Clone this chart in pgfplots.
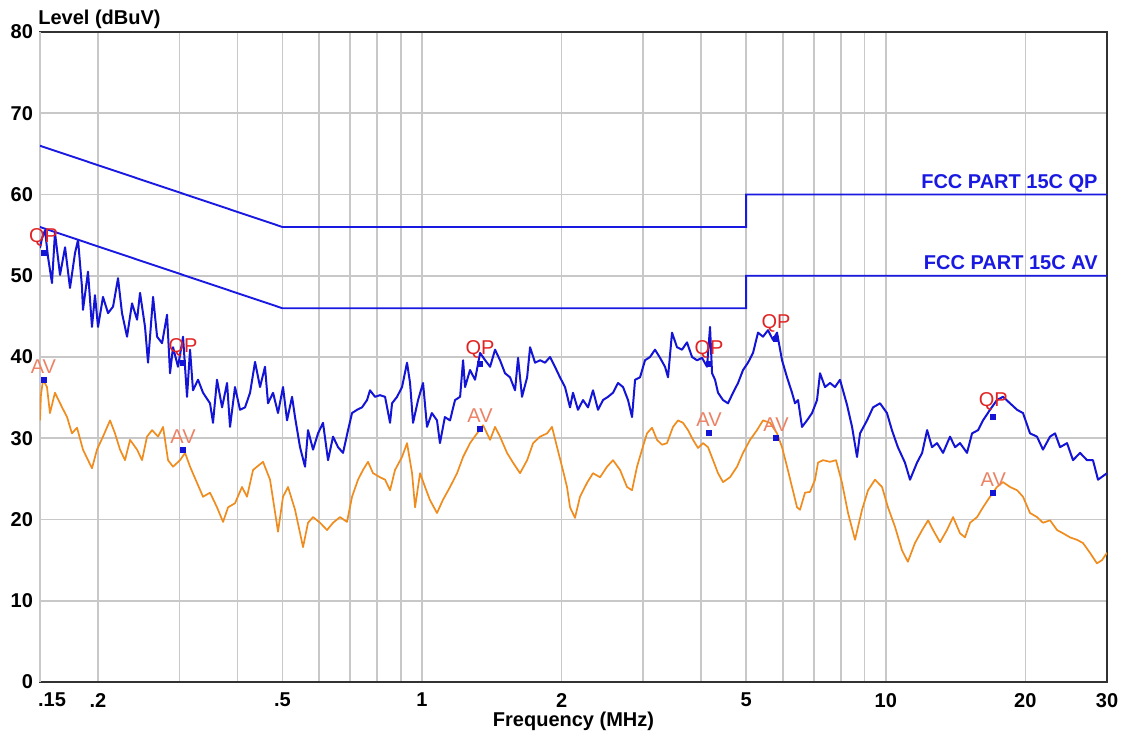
\documentclass[border=0pt]{standalone}
\usepackage{fontspec}
\setmainfont{Liberation Sans}
\usepackage{pgfplots}
\pgfplotsset{compat=1.18}
\definecolor{limblue}{RGB}{25,25,225}
\definecolor{qpblue}{RGB}{20,20,215}
\definecolor{avorange}{RGB}{240,140,30}
\definecolor{gridgray}{RGB}{200,200,200}
\definecolor{framegray}{RGB}{50,50,50}
\definecolor{qpred}{RGB}{225,35,35}
\definecolor{avsalmon}{RGB}{236,130,100}
\begin{document}
\begin{tikzpicture}
\useasboundingbox (-20pt,-29pt) rectangle (545.5pt,341pt);
\begin{axis}[
  at={(0,0)}, anchor=south west,
  scale only axis, width=533.5pt, height=325pt,
  xmode=log, xmin=0.15, xmax=30, ymin=0, ymax=80,
  xtick={0.2,0.5,1,2,5,10,20,30},
  xticklabels={.2,.5,1,2,5,10,20,30},
  extra x ticks={0.15}, extra x tick labels={.15},
  extra x tick style={xticklabel style={xshift=6pt}},
  minor xtick={0.3,0.4,0.6,0.7,0.8,0.9,3,4,6,7,8,9},
  ytick={0,10,20,30,40,50,60,70,80},
  yticklabels={0,10,20,30,40,50,60,70,80},
  major tick length=0pt, minor tick length=0pt,
  grid=both,
  major grid style={draw=gridgray, line width=0.8pt},
  minor grid style={draw=gridgray, line width=0.8pt},
  axis line style={draw=framegray, line width=1.1pt},
  ticklabel style={font=\bfseries\fontsize{10}{12}\selectfont, text=black},
  xticklabel style={yshift=-2pt},
  clip mode=individual,
]
% AV trace
\addplot[color=avorange, line width=0.85pt, line join=round] coordinates {
(0.150,32.2)(0.1507,35.3)(0.1523,37.2)(0.1553,36.3)(0.1576,33.1)(0.1616,35.6)(0.1674,33.8)(0.1716,32.6)(0.1758,30.6)(0.1803,31.3)(0.1857,28.6)(0.1942,26.3)(0.1991,28.6)(0.2051,30.2)(0.2124,32.2)(0.2177,30.6)(0.2232,28.6)(0.2288,27.3)(0.2346,29.8)(0.2429,28.6)(0.2490,27.3)(0.2552,30.2)(0.2617,31.0)(0.2696,30.2)(0.2764,31.4)(0.2833,27.3)(0.2904,26.5)(0.3007,27.3)(0.3083,28.2)(0.3160,26.5)(0.3272,24.5)(0.3371,22.8)(0.3490,23.3)(0.3613,21.5)(0.3723,19.7)(0.3817,21.5)(0.3951,22.0)(0.4090,24.0)(0.4193,22.8)(0.4321,26.1)(0.4540,27.1)(0.4701,24.9)(0.4891,18.5)(0.5014,22.8)(0.5140,24.0)(0.5322,21.2)(0.5538,16.6)(0.5677,19.6)(0.5820,20.3)(0.6026,19.6)(0.6239,18.7)(0.6428,19.6)(0.6655,20.3)(0.6890,19.7)(0.7064,22.8)(0.7277,24.9)(0.7460,26.1)(0.7648,27.1)(0.7840,25.7)(0.8118,25.2)(0.8322,24.9)(0.8531,23.6)(0.8745,26.1)(0.9054,27.7)(0.9282,29.4)(0.9516,25.7)(0.9659,21.5)(0.9901,25.7)(1.015,24.0)(1.040,22.4)(1.077,20.8)(1.109,22.4)(1.149,24.0)(1.190,25.7)(1.226,27.7)(1.269,29.4)(1.314,30.6)(1.354,31.6)(1.402,29.8)(1.437,31.4)(1.473,30.2)(1.525,28.2)(1.571,27.0)(1.627,25.7)(1.685,27.3)(1.736,29.4)(1.797,30.2)(1.861,30.6)(1.907,31.4)(1.955,28.9)(2.004,26.5)(2.054,24.0)(2.085,21.5)(2.137,20.2)(2.191,22.8)(2.268,24.5)(2.337,25.7)(2.420,25.2)(2.506,26.5)(2.581,27.3)(2.673,26.1)(2.767,24.0)(2.837,23.6)(2.908,26.5)(2.981,28.6)(3.056,30.6)(3.133,31.3)(3.212,29.8)(3.293,29.2)(3.375,29.4)(3.477,31.4)(3.565,32.2)(3.654,31.9)(3.746,31.0)(3.841,29.8)(3.937,28.8)(4.036,29.4)(4.137,28.9)(4.242,27.3)(4.348,25.7)(4.457,24.6)(4.615,25.2)(4.778,26.5)(4.923,28.2)(5.097,29.8)(5.277,31.0)(5.436,32.2)(5.629,31.9)(5.828,30.6)(5.975,28.9)(6.125,26.5)(6.279,24.0)(6.437,21.5)(6.533,21.2)(6.697,23.3)(6.866,23.4)(7.039,24.9)(7.144,27.0)(7.324,27.3)(7.583,27.1)(7.812,27.3)(8.049,24.5)(8.292,20.8)(8.585,17.5)(8.889,21.2)(9.158,23.6)(9.481,24.9)(9.817,24.0)(10.11,21.5)(10.47,19.1)(10.84,16.2)(11.16,14.8)(11.56,17.1)(11.98,18.7)(12.34,19.9)(12.65,18.7)(13.09,17.2)(13.55,18.7)(13.97,20.3)(14.46,18.3)(14.82,17.8)(15.20,19.6)(15.74,20.3)(16.21,21.5)(16.78,22.8)(17.37,24.0)(17.90,24.6)(18.54,24.0)(19.20,23.6)(19.77,22.8)(20.47,20.8)(21.19,20.3)(21.83,19.6)(22.61,19.9)(23.41,18.7)(24.12,18.3)(24.97,17.8)(25.85,17.5)(26.63,17.1)(27.57,15.9)(28.54,14.6)(29.27,15.0)(30.00,15.9)
};
% QP trace
\addplot[color=qpblue, line width=1.0pt, line join=round] coordinates {
(0.150,53.4)(0.1515,54.6)(0.1538,55.6)(0.1561,52.3)(0.1592,49.1)(0.1616,55.3)(0.1657,50.1)(0.1699,53.5)(0.1741,48.5)(0.1785,52.8)(0.1812,54.4)(0.1848,48.6)(0.1857,45.8)(0.1904,50.5)(0.1942,43.7)(0.1971,47.6)(0.2001,43.7)(0.2051,47.4)(0.2103,45.4)(0.2156,46.2)(0.2210,49.7)(0.2254,45.4)(0.2311,42.5)(0.2369,46.6)(0.2429,44.6)(0.2465,47.9)(0.2527,43.7)(0.2565,39.3)(0.2630,47.4)(0.2683,42.5)(0.2750,41.7)(0.2819,45.2)(0.2861,38.0)(0.2904,41.2)(0.2977,38.8)(0.3052,42.5)(0.3113,35.1)(0.3160,40.9)(0.3207,35.9)(0.3288,37.2)(0.3371,35.6)(0.3490,34.3)(0.3542,31.9)(0.3613,37.2)(0.3705,33.8)(0.3798,36.8)(0.3854,31.4)(0.3951,36.3)(0.4050,33.5)(0.4152,33.8)(0.4257,35.6)(0.4364,39.4)(0.4473,36.3)(0.4585,38.8)(0.4654,34.3)(0.4772,35.6)(0.4891,33.1)(0.5014,36.3)(0.5115,32.2)(0.5244,35.1)(0.5322,32.6)(0.5456,28.9)(0.5593,26.5)(0.5677,31.0)(0.5820,28.6)(0.5966,30.6)(0.6116,31.9)(0.6270,27.3)(0.6428,30.2)(0.6590,28.9)(0.6755,28.2)(0.6925,31.0)(0.7064,33.1)(0.7241,33.5)(0.7423,33.8)(0.7610,34.7)(0.7724,35.9)(0.7918,35.1)(0.8118,35.3)(0.8322,35.1)(0.8531,31.9)(0.8616,34.3)(0.8833,35.1)(0.9054,36.3)(0.9282,39.3)(0.9422,36.8)(0.9563,31.9)(0.9804,34.7)(1.005,36.8)(1.025,31.4)(1.050,33.1)(1.077,32.2)(1.093,29.4)(1.120,32.6)(1.149,32.2)(1.178,34.7)(1.208,35.1)(1.226,39.6)(1.238,36.3)(1.269,38.4)(1.301,37.2)(1.334,40.5)(1.368,39.6)(1.402,38.8)(1.437,40.9)(1.473,39.6)(1.510,38.0)(1.548,37.5)(1.587,35.9)(1.611,39.9)(1.643,35.1)(1.685,37.5)(1.710,41.2)(1.753,39.3)(1.797,39.6)(1.842,39.3)(1.888,40.0)(1.935,38.8)(1.984,37.5)(2.034,36.3)(2.085,33.8)(2.116,35.6)(2.169,33.5)(2.224,34.7)(2.280,33.8)(2.337,35.9)(2.396,33.5)(2.456,34.7)(2.518,35.1)(2.581,35.6)(2.646,36.8)(2.713,36.3)(2.781,34.7)(2.837,32.6)(2.880,37.2)(2.952,37.5)(3.026,39.6)(3.102,40.0)(3.180,40.9)(3.260,39.9)(3.342,38.8)(3.392,37.5)(3.460,43.0)(3.547,41.2)(3.636,40.9)(3.727,41.8)(3.822,40.0)(3.918,39.6)(4.016,39.9)(4.117,38.8)(4.179,43.7)(4.221,38.0)(4.284,37.2)(4.348,35.6)(4.457,34.7)(4.569,34.3)(4.684,35.6)(4.802,36.8)(4.923,38.4)(5.046,39.3)(5.173,40.5)(5.303,43.0)(5.436,42.5)(5.573,43.3)(5.713,42.1)(5.828,43.0)(5.975,39.6)(6.125,37.5)(6.279,35.6)(6.373,34.3)(6.469,34.7)(6.598,31.4)(6.764,32.2)(6.935,33.1)(7.109,34.7)(7.216,38.0)(7.397,36.3)(7.583,36.8)(7.774,36.3)(7.969,37.2)(8.251,34.1)(8.459,31.4)(8.671,27.7)(8.801,30.6)(9.112,32.2)(9.388,33.8)(9.720,34.3)(10.06,33.1)(10.31,31.0)(10.62,28.9)(11.00,27.0)(11.28,24.9)(11.68,27.0)(11.98,28.2)(12.28,31.0)(12.58,28.9)(12.90,29.4)(13.29,28.2)(13.76,30.2)(14.11,28.9)(14.46,29.4)(14.97,28.2)(15.35,30.6)(15.82,31.0)(16.21,32.2)(16.78,33.5)(17.37,34.7)(17.90,35.1)(18.54,34.3)(19.20,33.5)(19.77,33.1)(20.47,30.6)(21.19,30.2)(21.83,28.6)(22.61,30.2)(23.18,30.6)(23.76,28.9)(24.60,29.4)(25.34,27.3)(26.24,28.2)(27.17,27.3)(27.98,27.3)(28.69,24.9)(30.00,25.7)
};
% limit lines
\addplot[color=limblue, line width=0.95pt] coordinates {(0.15,66)(0.5,56)(5,56)(5,60)(30,60)};
\addplot[color=limblue, line width=0.95pt] coordinates {(0.15,56)(0.5,46)(5,46)(5,50)(30,50)};
\node[anchor=base east, inner sep=0pt, text=limblue, font=\bfseries\fontsize{10}{12}\selectfont] at (axis cs:30,60) [xshift=-4.5pt, yshift=3pt] {FCC PART 15C QP};
\node[anchor=base east, inner sep=0pt, text=limblue, font=\bfseries\fontsize{10}{12}\selectfont] at (axis cs:30,50) [xshift=-4.5pt, yshift=3pt] {FCC PART 15C AV};
% markers
\addplot[only marks, mark=square*, mark size=1.25pt, color=qpblue,
  nodes near coords, point meta=explicit symbolic,
  nodes near coords style={font=\fontsize{10}{12}\selectfont, text=qpred, anchor=south, inner sep=0pt, yshift=3pt}]
  coordinates {(0.1526,52.8)[QP] (0.3052,39.3)[QP] (1.334,39.1)[QP] (4.158,39.1)[QP] (5.799,42.2)[QP] (17.06,32.6)[QP]};
\addplot[only marks, mark=square*, mark size=1.25pt, color=qpblue,
  nodes near coords, point meta=explicit symbolic,
  nodes near coords style={font=\fontsize{10}{12}\selectfont, text=avsalmon, anchor=south, inner sep=0pt, yshift=3pt}]
  coordinates {(0.1526,37.2)[AV] (0.3052,28.6)[AV] (1.334,31.1)[AV] (4.158,30.6)[AV] (5.799,30.0)[AV] (17.06,23.3)[AV]};
\end{axis}
\node[anchor=base west, inner sep=0pt, font=\bfseries\fontsize{10}{12}\selectfont] at (-1pt,328.5pt) {Level (dBuV)};
\node[anchor=base, inner sep=0pt, font=\bfseries\fontsize{10}{12}\selectfont] at (266.75pt,-22pt) {Frequency (MHz)};
\end{tikzpicture}
\end{document}
